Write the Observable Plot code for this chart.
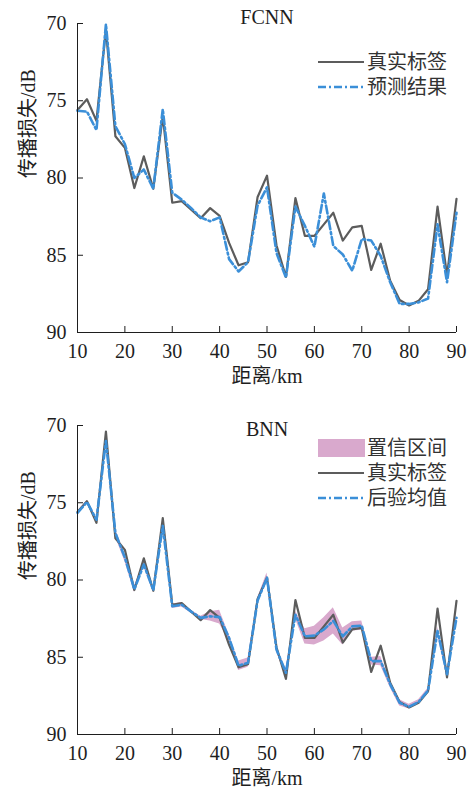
<!DOCTYPE html>
<html>
<head>
<meta charset="utf-8">
<script src="https://cdn.jsdelivr.net/npm/d3@7"></script>
<script src="https://cdn.jsdelivr.net/npm/@observablehq/plot@0.6"></script>
<style>
  body { margin: 0; background: #fff; }
  #fig { width: 471px; }
  #fig svg { display: block; }
</style>
</head>
<body>
<div id="fig"></div>
<script>
// Propagation loss (dB) versus distance (km)
const distance = [10, 12, 14, 16, 18, 20, 22, 24, 26, 28, 30, 32, 34, 36, 38, 40, 42, 44, 46, 48, 50,
                  52, 54, 56, 58, 60, 62, 64, 66, 68, 70, 72, 74, 76, 78, 80, 82, 84, 86, 88, 90];

// measured loss (true label)
const truthLoss = [75.6, 74.9, 76.3, 70.4, 77.3, 78.05, 80.65, 78.6, 80.7, 76.0, 81.6, 81.5, 82.05, 82.6,
                   81.95, 82.45, 84.2, 85.65, 85.45, 81.25, 79.85, 84.35, 86.4, 81.3, 83.75, 83.75, 83.0,
                   82.25, 84.05, 83.2, 83.1, 85.95, 84.25, 86.65, 87.9, 88.25, 87.95, 87.2, 81.85, 86.3, 81.35];

// FCNN prediction
const fcnnPred = [75.65, 75.7, 76.9, 70.05, 76.65, 77.8, 80.0, 79.45, 80.7, 75.55, 80.95, 81.4, 81.95, 82.55,
                  82.8, 82.55, 85.25, 86.05, 85.45, 81.8, 80.6, 84.85, 86.45, 81.85, 83.1, 84.45, 81.0,
                  84.4, 84.95, 86.0, 83.95, 84.05, 85.05, 86.75, 88.15, 88.15, 88.05, 87.8, 83.0, 86.75, 82.25];

// BNN posterior mean and half width of its confidence interval
const bnnMean = [75.65, 74.95, 76.1, 71.0, 76.95, 78.55, 80.6, 79.0, 80.65, 76.5, 81.7, 81.6, 82.05, 82.45,
                 82.35, 82.4, 83.75, 85.55, 85.35, 81.35, 79.85, 84.5, 86.0, 82.25, 83.65, 83.6, 83.2,
                 82.65, 83.65, 83.0, 82.95, 85.25, 85.25, 86.75, 87.95, 88.2, 87.9, 87.15, 83.3, 86.1, 82.45];
const bnnHalfWidth = [0.1, 0.1, 0.15, 0.2, 0.25, 0.25, 0.2, 0.15, 0.15, 0.15, 0.15, 0.15, 0.1, 0.1,
                      0.3, 0.45, 0.2, 0.3, 0.3, 0.15, 0.3, 0.15, 0.25, 0.25, 0.5, 0.6, 0.75,
                      0.85, 0.55, 0.3, 0.3, 0.25, 0.3, 0.2, 0.2, 0.15, 0.15, 0.15, 0.25, 0.2, 0.2];

const xTicks = [10, 20, 30, 40, 50, 60, 70, 80, 90];
const yTicks = [70, 75, 80, 85, 90];

const fcnnRows = distance.map((km, i) => ({km, truth: truthLoss[i], pred: fcnnPred[i]}));
const bnnRows = distance.map((km, i) => ({
  km, truth: truthLoss[i], mean: bnnMean[i],
  lo: bnnMean[i] - bnnHalfWidth[i], hi: bnnMean[i] + bnnHalfWidth[i]
}));

const FONT = '"Liberation Serif", "Times New Roman", "Noto Sans CJK SC", serif';
const W = 471, ML = 77, MR = 15;
const gray = "#5c5c5c", blue = "#3b8fd8", pink = "#d9a9cd", ink = "#1e1e1e";
const dash = "8,3,2,3";

// in-frame legend drawn as a function mark
function legendMark(items, top) {
  return (index, scales, values, dims) => {
    const g = d3.create("svg:g")
      .attr("font-family", FONT).attr("font-size", 20).attr("fill", "#333")
      .attr("text-anchor", "start");
    const x0 = dims.width - dims.marginRight - 138;
    items.forEach((it, i) => {
      const y = dims.marginTop + top + i * 25;
      if (it.type === "area") {
        g.append("rect").attr("x", x0).attr("y", y - 9).attr("width", 47).attr("height", 18).attr("fill", it.color);
      } else {
        g.append("line").attr("x1", x0).attr("x2", x0 + 46).attr("y1", y).attr("y2", y)
          .attr("stroke", it.color).attr("stroke-width", it.width).attr("stroke-dasharray", it.dash || null);
      }
      g.append("text").attr("x", x0 + 49).attr("y", y).attr("dy", "0.35em").text(it.label);
    });
    return g.node();
  };
}

function panel({title, titleDy, height, marginTop, marginBottom, marks, legend, legendTop}) {
  const plotH = height - marginTop - marginBottom;
  const plotW = W - ML - MR;
  return Plot.plot({
    width: W, height, marginTop, marginBottom, marginLeft: ML, marginRight: MR,
    style: {fontFamily: FONT, fontSize: "20px", color: ink, background: "white", overflow: "visible"},
    x: {domain: [10, 90]},
    y: {domain: [70, 90], reverse: true},
    marks: [
      ...marks,
      Plot.ruleX([10], {stroke: ink}),
      Plot.ruleY([90], {stroke: ink}),
      Plot.tickX(xTicks, {x: d => d, insetTop: plotH - 6, stroke: ink}),
      Plot.tickY(yTicks, {y: d => d, insetRight: plotW - 6, stroke: ink}),
      Plot.axisX({ticks: xTicks, tickSize: 0, tickPadding: 11, label: null, fontSize: 20}),
      Plot.axisY({ticks: yTicks, tickSize: 0, tickPadding: 11, label: null, fontSize: 20}),
      Plot.text([title], {text: d => d, frameAnchor: "top", dy: titleDy, lineAnchor: "middle", fontSize: 20, fill: ink}),
      Plot.text(["距离/km"], {text: d => d, frameAnchor: "bottom", dy: 44, lineAnchor: "middle", fontSize: 20, fill: ink}),
      Plot.text(["传播损失/dB"], {text: d => d, frameAnchor: "left", dx: -49, rotate: -90, lineAnchor: "middle", fontSize: 20, fill: ink}),
      legendMark(legend, legendTop)
    ]
  });
}

const fig = document.getElementById("fig");

fig.append(panel({
  title: "FCNN", titleDy: -5.5, height: 405, marginTop: 23, marginBottom: 73, legendTop: 39,
  legend: [
    {label: "真实标签", color: gray, width: 2.2},
    {label: "预测结果", color: blue, width: 2.6, dash}
  ],
  marks: [
    Plot.line(fcnnRows, {x: "km", y: "truth", stroke: gray, strokeWidth: 2.2}),
    Plot.line(fcnnRows, {x: "km", y: "pred", stroke: blue, strokeWidth: 2.6, strokeDasharray: dash})
  ]
}));

fig.append(panel({
  title: "BNN", titleDy: 4, height: 386, marginTop: 20, marginBottom: 57, legendTop: 23,
  legend: [
    {label: "置信区间", color: pink, type: "area"},
    {label: "真实标签", color: gray, width: 2.2},
    {label: "后验均值", color: blue, width: 2.6, dash}
  ],
  marks: [
    Plot.areaY(bnnRows, {x: "km", y1: "lo", y2: "hi", fill: pink}),
    Plot.line(bnnRows, {x: "km", y: "truth", stroke: gray, strokeWidth: 2.2}),
    Plot.line(bnnRows, {x: "km", y: "mean", stroke: blue, strokeWidth: 2.6, strokeDasharray: dash})
  ]
}));
</script>
</body>
</html>
